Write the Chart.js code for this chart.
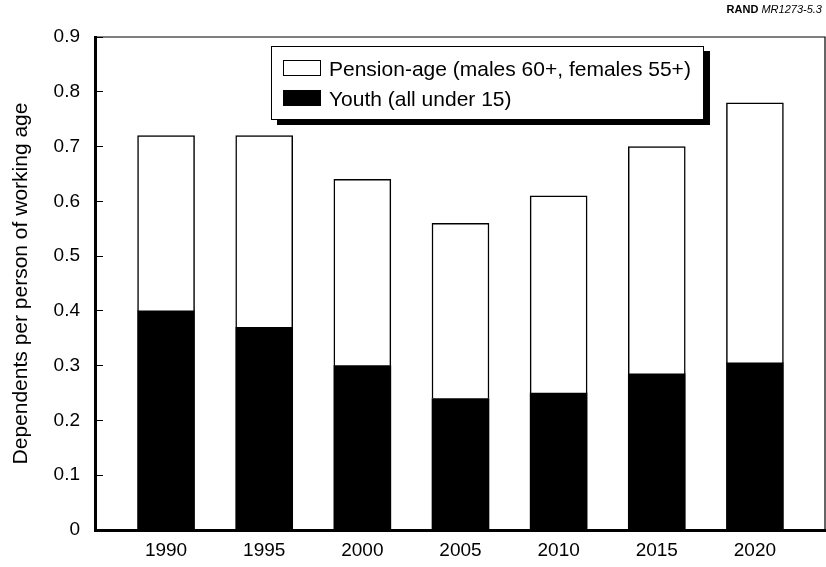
<!DOCTYPE html>
<html>
<head>
<meta charset="utf-8">
<script src="https://cdn.jsdelivr.net/npm/chart.js@4"></script>
<style>
  html, body { margin: 0; padding: 0; background: #fff; }
  #wrap { position: relative; width: 826px; height: 567px; font-family: "Liberation Sans", Arial, sans-serif; }
  #dependency_plot { display: block; }
  #credit { position: absolute; right: 4px; top: 3px; font-size: 11px; color: #000; }
  #credit b { font-weight: bold; }
  #credit i { font-style: italic; }
  #legend { position: absolute; left: 271px; top: 46px; width: 431px; height: 72px;
    border: 1.5px solid #000; background: #fff; box-shadow: 6px 5px 0 #000; }
  .item { position: absolute; left: 11px; font-size: 21px; line-height: 22px; color: #000; white-space: nowrap; }
  .sw { display: inline-block; width: 36px; height: 14px; border: 1.5px solid #000; vertical-align: baseline; margin-right: 8px; }
</style>
</head>
<body>
<div id="wrap">
  <canvas id="dependency_plot" width="826" height="567"></canvas>
  <div id="credit"><b>RAND</b> <i>MR1273-5.3</i></div>
  <div id="legend"></div>
</div>
<script>
// values
const years = [1990, 1995, 2000, 2005, 2010, 2015, 2020];
const youth = [0.40, 0.37, 0.30, 0.24, 0.25, 0.285, 0.305];
const pension = [0.32, 0.35, 0.34, 0.32, 0.36, 0.415, 0.475];
const yTicks = [0, 0.1, 0.2, 0.3, 0.4, 0.5, 0.6, 0.7, 0.8, 0.9];
const seriesNames = ['Youth (all under 15)', 'Pension-age (males 60+, females 55+)'];
const seriesFill = ['#000000', '#ffffff'];

let dependency_plot_canvas = document.querySelector("#dependency_plot");

// thin top/right frame
const frame_plugin = {
  id: 'frame',
  afterDraw(chart) {
    const a = chart.chartArea;
    const ctx = chart.ctx;
    ctx.save();
    ctx.strokeStyle = '#000';
    ctx.lineWidth = 1.2;
    ctx.beginPath();
    ctx.moveTo(a.left, a.top);
    ctx.lineTo(a.right, a.top);
    ctx.lineTo(a.right, a.bottom);
    ctx.stroke();
    ctx.restore();
  }
};

const dependency_plot_chart = new Chart(
  dependency_plot_canvas,
  {
    type: 'bar',
    data: {
      datasets: [
        {
          label: seriesNames[0],
          data: years.map((y, i) => ({ x: y, y: youth[i] })),
          backgroundColor: seriesFill[0],
          borderColor: '#000',
          borderWidth: 0,
          barThickness: 57
        },
        {
          label: seriesNames[1],
          data: years.map((y, i) => ({ x: y, y: pension[i] })),
          backgroundColor: seriesFill[1],
          borderColor: '#000',
          borderWidth: 1.5,
          borderSkipped: 'bottom',
          barThickness: 57
        }
      ]
    },
    options: {
      responsive: false,
      animation: false,
      layout: { padding: { left: 0, right: 1, top: 37, bottom: 0 } },
      scales: {
        x: {
          type: 'linear',
          stacked: true,
          offset: false,
          min: 1986.38,
          max: 2023.57,
          afterBuildTicks: (scale) => { scale.ticks = years.map(v => ({ value: v })); },
          afterFit: (scale) => { scale.height = 37; },
          grid: { display: false, drawTicks: false, offset: false },
          border: { color: '#000', width: 3 },
          ticks: {
            color: '#000',
            padding: 9,
            font: { family: 'Liberation Sans', size: 19 },
            callback: (v) => String(v)
          }
        },
        y: {
          stacked: true,
          min: 0,
          max: 0.9,
          afterBuildTicks: (scale) => { scale.ticks = yTicks.map(v => ({ value: v })); },
          afterFit: (scale) => { scale.width = 95; },
          grid: { drawOnChartArea: false, drawTicks: true, tickLength: -8, color: '#000', lineWidth: 1 },
          border: { color: '#000', width: 3 },
          ticks: {
            color: '#000',
            padding: 23,
            font: { family: 'Liberation Sans', size: 19 },
            callback: (v) => (v === 0 ? '0' : v.toFixed(1))
          },
          title: {
            display: true,
            text: 'Dependents per person of working age',
            color: '#000',
            padding: { top: 9, bottom: 0 },
            font: { family: 'Liberation Sans', size: 21 }
          }
        }
      },
      plugins: {
        legend: { display: false },
        tooltip: { enabled: false }
      }
    },
    plugins: [frame_plugin]
  }
);

// legend box, pension first as in the figure
const legend_el = document.querySelector('#legend');
[1, 0].forEach((k, row) => {
  const d = document.createElement('div');
  d.className = 'item';
  d.style.top = (11 + row * 30) + 'px';
  d.innerHTML = '<span class="sw" style="background:' + seriesFill[k] + '"></span>' + seriesNames[k];
  legend_el.appendChild(d);
});
</script>
</body>
</html>
